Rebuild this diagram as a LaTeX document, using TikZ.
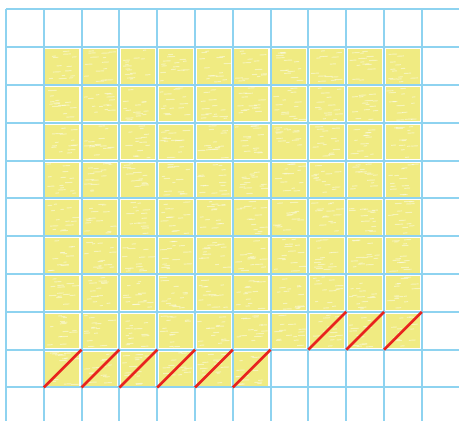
\documentclass[tikz,border=0pt]{standalone}
\definecolor{gridblue}{RGB}{142,211,240}
\definecolor{crayon}{RGB}{240,235,130}
\definecolor{redline}{RGB}{232,35,30}
\tikzset{
  gridline/.style={draw=gridblue, line width=1.5pt},
  cellfill/.style={fill=crayon},
  speck/.style={draw=white, opacity=0.45, line width=0.7pt},
  diag/.style={draw=redline, line width=2pt}
}
\newcommand{\crayoncell}[2]{%
  \fill[cellfill] (#1+0.04,#2+0.04) rectangle (#1+0.94,#2+0.95);
  \foreach \k in {1,...,14}{
    \pgfmathsetmacro{\sx}{#1+0.06+0.7*rnd}
    \pgfmathsetmacro{\sy}{#2+0.07+0.85*rnd}
    \pgfmathsetmacro{\sl}{0.08+0.15*rnd}
    \draw[speck] (\sx,\sy) -- (\sx+\sl,\sy+0.01);
  }
}
\begin{document}
\begin{tikzpicture}
\pgfmathsetseed{7}
\useasboundingbox (-0.159,-10.886) rectangle (11.984,0.251);
\fill[white] (-0.159,-10.886) rectangle (11.984,0.251);
% yellow cells
\foreach \r in {1,...,8}{
  \foreach \c in {1,...,10}{
    \crayoncell{\c}{-\r-1}
  }
}
\foreach \c in {1,...,6}{
  \crayoncell{\c}{-10}
}
% grid
\foreach \x in {0,...,11}{
  \draw[gridline] (\x,0) -- (\x,-10.886);
}
\foreach \y in {0,...,10}{
  \draw[gridline] (0,-\y) -- (11.984,-\y);
}
% red diagonals
\foreach \c in {1,...,6}{
  \draw[diag] (\c,-10) -- (\c+1,-9);
}
\foreach \c in {8,9,10}{
  \draw[diag] (\c,-9) -- (\c+1,-8);
}
\end{tikzpicture}
\end{document}
